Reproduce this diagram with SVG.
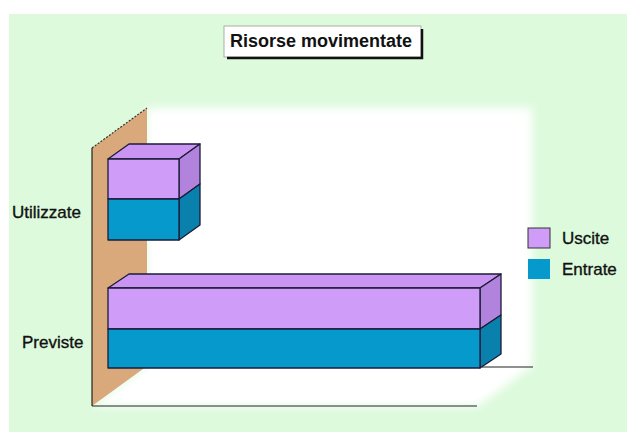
<svg xmlns="http://www.w3.org/2000/svg" width="627" height="443" viewBox="0 0 627 443">
<defs>
<filter id="blur" x="-10%" y="-10%" width="120%" height="120%"><feGaussianBlur stdDeviation="4"/></filter>
<style>
.lbl{font-family:"Liberation Sans",Arial,sans-serif;fill:#111;}
.thick{stroke:#111;stroke-width:0.35;}
.edge{stroke:#1b1b3a;stroke-width:1.3;stroke-linejoin:round;}
.pf{fill:#cf9cf7;}.ps{fill:#b283dc;}.pt{fill:#c994f2;}
.bf{fill:#0599cc;}.bs{fill:#0a80ad;}
</style>
</defs>
<rect width="627" height="443" fill="#ffffff"/>
<rect x="9" y="14" width="618" height="418" fill="#ddfadd"/>
<g id="title">
<rect x="224" y="26" width="197" height="31" fill="#ffffff" stroke="#9a9a9a" stroke-width="0.8"/>
<polyline points="422,29 422,58 227,58" fill="none" stroke="#111" stroke-width="2.5"/>
<text class="lbl" x="321" y="47" text-anchor="middle" font-size="18" font-weight="bold">Risorse movimentate</text>
</g>
<g id="plot-area">
<polygon points="147,108 532,108 532,366 478,406 92,406 147,366" fill="#ffffff" filter="url(#blur)"/>
<polygon points="92,148 147,108 147,366 92,406" fill="#d9a97b"/>
<line x1="92" y1="148" x2="147" y2="108" stroke="#333" stroke-width="1.2" stroke-dasharray="2,1.5"/>
<line x1="92" y1="148" x2="92" y2="406" stroke="#222" stroke-width="1.2"/>
<line x1="92" y1="406" x2="477" y2="406" stroke="#222" stroke-width="1.2"/>
<line x1="482" y1="367" x2="533" y2="367" stroke="#222" stroke-width="1.2"/>
</g>
<g id="bar-utilizzate">
<polygon class="pt edge" points="108,159 129,144 200,144 179,159"/>
<polygon class="ps edge" points="179,159 200,144 200,184 179,199"/>
<polygon class="bs edge" points="179,199 200,184 200,225 179,240"/>
<rect class="pf edge" x="108" y="159" width="71" height="40"/>
<rect class="bf edge" x="108" y="199" width="71" height="41"/>
</g>
<g id="bar-previste">
<polygon class="pt edge" points="108,288 129,274 501,274 480,288"/>
<polygon class="ps edge" points="480,288 501,274 501,315 480,329"/>
<polygon class="bs edge" points="480,329 501,315 501,354 480,368"/>
<rect class="pf edge" x="108" y="288" width="372" height="41"/>
<rect class="bf edge" x="108" y="329" width="372" height="39"/>
</g>
<g id="labels">
<text class="lbl thick" x="12" y="218" font-size="17">Utilizzate</text>
<text class="lbl thick" x="22" y="348" font-size="17">Previste</text>
</g>
<g id="legend">
<rect x="528" y="228" width="22" height="20" fill="#cf9cf7" stroke="#333" stroke-width="1"/>
<rect x="528" y="259" width="22" height="20" fill="#0599cc"/>
<text class="lbl thick" x="562" y="244" font-size="17">Uscite</text>
<text class="lbl thick" x="562" y="275" font-size="17">Entrate</text>
</g>
</svg>
